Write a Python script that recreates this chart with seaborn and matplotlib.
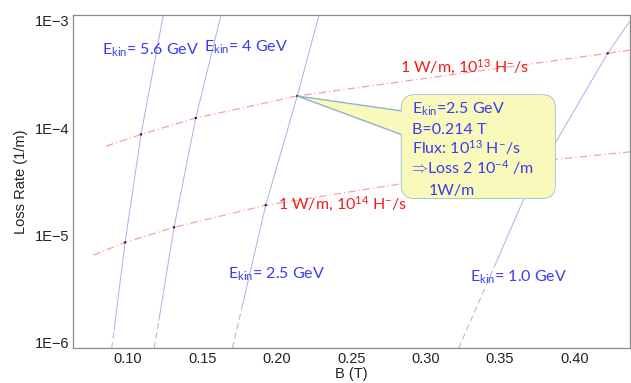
import numpy as np
import pandas as pd
import matplotlib
matplotlib.use("Agg")
import matplotlib.pyplot as plt
import seaborn as sns
from matplotlib.ticker import FixedLocator, FixedFormatter, MultipleLocator, NullLocator
from matplotlib.patches import FancyBboxPatch, Polygon

# ---------------- data ----------------
# E_kin curves: B (T) and loss rate (1/m), from bottom to top
b_e56 = [0.0891, 0.0907, 0.0981, 0.1088, 0.1238]
r_e56 = [8.9e-7, 1.32e-6, 8.6e-6, 8.73e-5, 1.14e-3]
b_e40 = [0.1177, 0.1208, 0.1310, 0.1456, 0.1626]
r_e40 = [8.9e-7, 1.62e-6, 1.19e-5, 1.24e-4, 1.14e-3]
b_e25 = [0.1702, 0.1770, 0.1926, 0.2138, 0.2285]
r_e25 = [8.9e-7, 2.24e-6, 1.91e-5, 1.99e-4, 1.14e-3]
b_e10 = [0.3222, 0.3452, 0.3475, 0.3657, 0.3870, 0.4224, 0.4374]
r_e10 = [8.9e-7, 4.75e-6, 5.6e-6, 2.13e-5, 7.19e-5, 4.97e-4, 9.93e-4]
# loss rate above which each E_kin curve is drawn solid (dashed below)
solid_from = [1.32e-6, 1.62e-6, 2.24e-6, 5.6e-6]
ekin_names = ["5.6 GeV", "4 GeV", "2.5 GeV", "1.0 GeV"]

# 1 W/m curves
b_w13 = [0.0853, 0.1088, 0.1456, 0.2138, 0.4224, 0.4374]
r_w13 = [6.79e-5, 8.73e-5, 1.24e-4, 1.99e-4, 4.97e-4, 5.33e-4]
b_w14 = [0.0767, 0.0981, 0.1310, 0.1926, 0.3870, 0.4374]
r_w14 = [6.55e-6, 8.6e-6, 1.19e-5, 1.91e-5, 5.1e-5, 6.0e-5]

# intersection markers
dot_b = [0.0981, 0.1088, 0.1310, 0.1456, 0.1926, 0.2138, 0.4224]
dot_r = [8.6e-6, 8.73e-5, 1.19e-5, 1.24e-4, 1.91e-5, 1.99e-4, 4.97e-4]

# callout point
call_b = 0.2138
call_r = 1.99e-4

y_ticks = [1e-6, 1e-5, 1e-4, 1e-3]
y_ticklabels = ["1E\u22126", "1E\u22125", "1E\u22124", "1E\u22123"]
x_ticks = [0.10, 0.15, 0.20, 0.25, 0.30, 0.35, 0.40]
x_ticklabels = ["0.10", "0.15", "0.20", "0.25", "0.30", "0.35", "0.40"]

# ---------------- build tables ----------------
rows = []
for name, bs, rs, thr in zip(ekin_names, [b_e56, b_e40, b_e25, b_e10],
                             [r_e56, r_e40, r_e25, r_e10], solid_from):
    for b, r in zip(bs, rs):
        if r <= thr:
            rows.append((name, "dashed", b, r))
        if r >= thr:
            rows.append((name, "solid", b, r))
ekin_df = pd.DataFrame(rows, columns=["curve", "seg", "B", "rate"])

w_df = pd.DataFrame({
    "curve": ["1e13"] * len(b_w13) + ["1e14"] * len(b_w14),
    "B": b_w13 + b_w14,
    "rate": r_w13 + r_w14,
})
dot_df = pd.DataFrame({"B": dot_b, "rate": dot_r})

# ---------------- style ----------------
sns.set_style("white")
plt.rcParams["font.family"] = ["Liberation Sans", "DejaVu Sans"]
plt.rcParams["mathtext.fontset"] = "custom"
plt.rcParams["mathtext.rm"] = "Lato"
plt.rcParams["mathtext.it"] = "Lato:italic"
plt.rcParams["mathtext.bf"] = "Lato:bold"

BLUE_LINE = "#b3b3e8"
RED_LINE = "#f5a3a3"
BLUE_TXT = "#3b3bf2"
RED_TXT = "#f21c1c"
SPINE = "#8a8a8a"

fig = plt.figure(figsize=(6.31, 3.83), dpi=100)
ax = fig.add_axes([0.1155, 0.0906, 0.8829, 0.8710])
ax.set_yscale("log")

for (name, seg), sub in ekin_df.groupby(["curve", "seg"], sort=False):
    ls = "-" if seg == "solid" else (0, (5.8, 3.6))
    sns.lineplot(data=sub, x="B", y="rate", sort=False, estimator=None,
                 color=BLUE_LINE, lw=0.75, linestyle=ls, ax=ax, legend=False)

for name, sub in w_df.groupby("curve", sort=False):
    sns.lineplot(data=sub, x="B", y="rate", sort=False, estimator=None,
                 color=RED_LINE, lw=0.9, linestyle=(0, (6, 2.4, 0.9, 2.4)),
                 ax=ax, legend=False)

sns.scatterplot(data=dot_df, x="B", y="rate", color="#222222", s=3,
                edgecolor="none", ax=ax, legend=False, zorder=5)

ax.set_xlim(0.063, 0.4374)
ax.set_ylim(10 ** -6.052, 10 ** -2.944)

ax.yaxis.set_major_locator(FixedLocator(y_ticks))
ax.yaxis.set_major_formatter(FixedFormatter(y_ticklabels))
ax.yaxis.set_minor_locator(NullLocator())
ax.xaxis.set_major_locator(FixedLocator(x_ticks))
ax.xaxis.set_major_formatter(FixedFormatter(x_ticklabels))
ax.xaxis.set_minor_locator(MultipleLocator(0.01))

ax.tick_params(axis="both", which="major", direction="in", length=3.5,
               width=0.7, color=SPINE, labelsize=10.5, labelcolor="#222222", pad=2.5)
ax.tick_params(axis="both", which="minor", direction="in", length=2,
               width=0.6, color=SPINE)
for s in ax.spines.values():
    s.set_color(SPINE)
    s.set_linewidth(0.9)

ax.set_xlabel("B (T)", fontsize=10.5, color="#222222", labelpad=1)
ax.set_ylabel("Loss Rate (1/m)", fontsize=10.5, color="#222222", labelpad=5)

# ---------------- labels ----------------
lab_kw = dict(transform=ax.transAxes, fontsize=11.5, family="Lato", va="baseline", ha="left")
ax.text(0.0517, 0.8792, r"E$_{\mathrm{kin}}$= 5.6 GeV", color=BLUE_TXT, **lab_kw)
ax.text(0.2353, 0.8891, r"E$_{\mathrm{kin}}$= 4 GeV", color=BLUE_TXT, **lab_kw)
ax.text(0.2789, 0.2096, r"E$_{\mathrm{kin}}$= 2.5 GeV", color=BLUE_TXT, **lab_kw)
ax.text(0.7128, 0.1996, r"E$_{\mathrm{kin}}$= 1.0 GeV", color=BLUE_TXT, **lab_kw)
ax.text(0.5872, 0.8261, r"1 W/m, 10$^{13}$ H$^{-}$/s", color=RED_TXT, **lab_kw)
ax.text(0.3687, 0.4167, r"1 W/m, 10$^{14}$ H$^{-}$/s", color=RED_TXT, **lab_kw)

# ---------------- callout ----------------
FILL = "#f9f9bb"
EDGE = "#90b2cf"
fig.canvas.draw()
tip = ax.transAxes.inverted().transform(ax.transData.transform((call_b, call_r)))
bx0, by0, bw, bh = 0.590, 0.4496, 0.2754, 0.3097
aspect = (ax.bbox.width) / (ax.bbox.height)
box_kw = dict(boxstyle="round,pad=0,rounding_size=0.0235", mutation_aspect=aspect,
              transform=ax.transAxes, clip_on=False)
ax.add_patch(FancyBboxPatch((bx0, by0), bw, bh, fc=FILL, ec=EDGE, lw=1.0, zorder=6, **box_kw))
wedge = Polygon([tip, (bx0 + 0.01, 0.7092), (bx0 + 0.01, 0.6343)], closed=True,
                transform=ax.transAxes, fc=FILL, ec=EDGE, lw=1.0, zorder=7)
ax.add_patch(wedge)
ax.add_patch(FancyBboxPatch((bx0, by0), bw, bh, fc=FILL, ec="none", lw=0, zorder=8, **box_kw))

call_kw = dict(transform=ax.transAxes, fontsize=11.5, family="Lato", va="baseline",
               ha="left", color=BLUE_TXT, zorder=9)
ax.text(0.608, 0.7044, r"E$_{\mathrm{kin}}$=2.5 GeV", **call_kw)
ax.text(0.608, 0.6415, "B=0.214 T", **call_kw)
ax.text(0.608, 0.5824, r"Flux: 10$^{13}$ H$^{-}$/s", **call_kw)
ax.text(0.608, 0.5225, r"$\!\!\Rightarrow\!$Loss 2 10$^{-4}$ /m", **call_kw)
ax.text(0.6378, 0.4595, "1W/m", **call_kw)

fig.savefig("out.png", dpi=100)
